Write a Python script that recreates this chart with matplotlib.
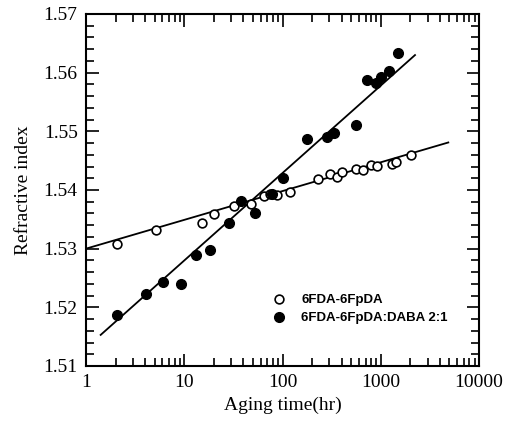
import numpy as np
import matplotlib
matplotlib.use('Agg')
import matplotlib.pyplot as plt
from matplotlib.ticker import MultipleLocator, LogLocator, NullFormatter

# 6FDA-6FpDA (open circles)
open_t = [2.05, 5.1, 15.3, 20.1, 32, 47.8, 65, 75, 87, 119, 231, 304, 356, 400, 556, 664, 796, 909, 1292, 1420, 2032]
open_n = [1.5308, 1.5331, 1.5344, 1.5359, 1.5372, 1.5376, 1.5390, 1.5393, 1.5391, 1.5397, 1.5419, 1.5427,
          1.5422, 1.5431, 1.5436, 1.5434, 1.5443, 1.5441, 1.5445, 1.5448, 1.5459]

# 6FDA-6FpDA:DABA 2:1 (filled circles)
fill_t = [2.05, 4.08, 6.1, 9.2, 13.1, 18.3, 28.5, 37.8, 52.5, 77.6, 100, 176, 282, 334, 556, 730, 888, 1000, 1213, 1487]
fill_n = [1.5187, 1.5223, 1.5244, 1.5240, 1.5290, 1.5297, 1.5343, 1.5382, 1.5360, 1.5393, 1.5421, 1.5487,
          1.5491, 1.5498, 1.5511, 1.5588, 1.5583, 1.5593, 1.5603, 1.5634]

# fitted lines (end points)
open_fit_t = [1.0, 4870]
open_fit_n = [1.5300, 1.5481]
fill_fit_t = [1.41, 2232]
fill_fit_n = [1.5153, 1.5630]

labels = ['6FDA-6FpDA', '6FDA-6FpDA:DABA 2:1']

fig = plt.figure(figsize=(5.13, 4.26), dpi=100)
ax = fig.add_axes([86/513, 1-366/426, (479-86)/513, (366-14)/426])

ax.plot(open_fit_t, open_fit_n, color='black', lw=1.3)
ax.plot(fill_fit_t, fill_fit_n, color='black', lw=1.3)
ax.plot(open_t, open_n, 'o', mfc='white', mec='black', mew=1.2, ms=6.3, label=labels[0], zorder=3)
ax.plot(fill_t, fill_n, 'o', mfc='black', mec='black', ms=7, label=labels[1], zorder=3)

ax.set_xscale('log')
ax.set_xlim(1, 10000)
ax.set_ylim(1.51, 1.57)
ax.yaxis.set_major_locator(MultipleLocator(0.01))
ax.yaxis.set_minor_locator(MultipleLocator(0.002))
ax.xaxis.set_minor_locator(LogLocator(base=10, subs=np.arange(2, 10), numticks=20))
ax.xaxis.set_minor_formatter(NullFormatter())
ax.set_xticks([1, 10, 100, 1000, 10000])
ax.set_xticklabels(['1', '10', '100', '1000', '10000'])
ax.set_yticks([1.51, 1.52, 1.53, 1.54, 1.55, 1.56, 1.57])
ax.set_yticklabels(['1.51', '1.52', '1.53', '1.54', '1.55', '1.56', '1.57'])

serif = 'Liberation Serif'
for lab in ax.get_xticklabels() + ax.get_yticklabels():
    lab.set_fontfamily(serif)
    lab.set_fontsize(14)

ax.tick_params(which='both', direction='in', top=True, right=True, width=1.2)
ax.tick_params(which='major', length=9, pad=6)
ax.tick_params(which='minor', length=5.5)
for s in ax.spines.values():
    s.set_linewidth(1.5)

ax.set_xlabel('Aging time(hr)', fontfamily=serif, fontsize=14, labelpad=4)
ax.set_ylabel('Refractive index', fontfamily=serif, fontsize=14, labelpad=8)

ax.legend(loc='upper left', bbox_to_anchor=((272-86)/393, (366-294)/352), frameon=False,
          prop={'family': 'Liberation Sans', 'weight': 'bold', 'size': 9.5},
          borderpad=0, borderaxespad=0,
          handletextpad=1.2, labelspacing=0.45, handlelength=1.0)

fig.savefig('out.png', dpi=100)
